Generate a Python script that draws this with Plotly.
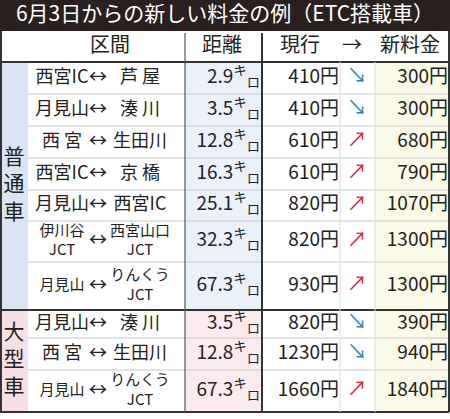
import plotly.graph_objects as go

title = "6月3日からの新しい料金の例（ETC搭載車）"
headers = ["区間", "距離", "現行", "→", "新料金"]
groups = ["普<br>通<br>車", "大<br>型<br>車"]
route_from = ["西宮IC", "月見山", "西 宮", "西宮IC", "月見山", "伊川谷<br>JCT", "月見山", "月見山", "西 宮", "月見山"]
route_to = ["芦 屋", "湊 川", "生田川", "京 橋", "西宮IC", "西宮山口<br>JCT", "りんくう<br>JCT", "湊 川", "生田川", "りんくう<br>JCT"]
distance = [2.9, 3.5, 12.8, 16.3, 25.1, 32.3, 67.3, 3.5, 12.8, 67.3]
current = [410, 410, 610, 610, 820, 820, 930, 820, 1230, 1660]
new_fare = [300, 300, 680, 790, 1070, 1300, 1300, 390, 940, 1840]

row_edges = [62, 94, 126, 158, 190, 221, 262, 310, 338, 370, 412]
n_normal = 7
mid = [(row_edges[i] + row_edges[i+1]) / 2 for i in range(len(distance))]

F = "Noto Sans CJK JP"
TC = "#222"
shapes = []
def rect(x0, y0, x1, y1, color):
    shapes.append(dict(type="rect", x0=x0, x1=x1, y0=y0, y1=y1, fillcolor=color,
                       line=dict(width=0), layer="below"))
def line(x0, y0, x1, y1, w=1, c="#bbb"):
    shapes.append(dict(type="line", x0=x0, x1=x1, y0=y0, y1=y1, line=dict(width=w, color=c)))

rect(0, 0, 450, 31, "#2b2020")
top, split, bot = row_edges[0], row_edges[n_normal], row_edges[-1]
rect(0, top, 28, split, "#d9e4f4")
rect(0, split, 28, bot, "#f7dfe6")
rect(185, top, 262, split, "#eaf1f9")
rect(185, split, 262, bot, "#fcebee")
rect(375, top, 449, bot, "#fbf9e8")
for i, y in enumerate(row_edges[1:-1], 1):
    if i != n_normal:
        line(28, y, 449, y, 1, "#c8c8c8")
line(0, split, 449, split, 2, "#333")
line(0, top, 449, top, 2, "#333")
line(0, bot, 449, bot, 2, "#333")
line(185, 33, 185, bot, 1.2, "#555")
line(262, 33, 262, bot, 2, "#333")
line(340, top, 340, bot, 1, "#ddd")
line(375, top, 375, bot, 1, "#ddd")
line(449, 31, 449, bot, 2, "#333")
line(1, 31, 1, bot, 2, "#333")

fig = go.Figure()
def txt(xs, ys, ts, size=17, color=TC, pos="middle center"):
    fig.add_trace(go.Scatter(x=xs, y=ys, text=ts, mode="text", textposition=pos,
                             textfont=dict(family=F, size=size, color=color),
                             hoverinfo="skip", showlegend=False))

two = ["<br>" in a or "<br>" in b for a, b in zip(route_from, route_to)]
sizes = [15 if t else 18 for t in two]
txt([225], [16], [title], 21, "white")
txt([110, 222, 300, 352, 410], [47]*5, headers, 20)
txt([14, 14], [(top + split) / 2, (split + bot) / 2], groups, 21, "#222")
fig.add_trace(go.Scatter(x=[62]*10, y=mid, text=route_from, mode="text",
                         textfont=dict(family=F, size=sizes, color=TC), hoverinfo="skip", showlegend=False))
txt([98]*10, mid, ["↔"]*10, 18)
fig.add_trace(go.Scatter(x=[140]*10, y=mid, text=route_to, mode="text",
                         textfont=dict(family=F, size=sizes, color=TC), hoverinfo="skip", showlegend=False))
txt([260]*10, mid, [f"{d:.1f}<sup>キ</sup><sub>ロ</sub>" for d in distance], 19, TC, "middle left")
txt([339]*10, mid, [f"{c}円" for c in current], 19, TC, "middle left")
txt([448]*10, mid, [f"{n}円" for n in new_fare], 19, TC, "middle left")
arrows = ["↘" if n < c else "↗" for c, n in zip(current, new_fare)]
colors = ["#2a7fc0" if a == "↘" else "#d6282f" for a in arrows]
fig.add_trace(go.Scatter(x=[357]*10, y=mid, text=arrows, mode="text",
                         textfont=dict(family=F, size=20, color=colors),
                         hoverinfo="skip", showlegend=False))

fig.update_layout(width=450, height=419, margin=dict(l=0, r=0, t=0, b=0),
                  paper_bgcolor="white", plot_bgcolor="white", shapes=shapes,
                  xaxis=dict(range=[0, 450], visible=False, fixedrange=True),
                  yaxis=dict(range=[419, 0], visible=False, fixedrange=True))
fig.write_html("out.html", config={"displayModeBar": False},
               post_script="document.body.style.margin='0';document.body.style.overflow='hidden';")
